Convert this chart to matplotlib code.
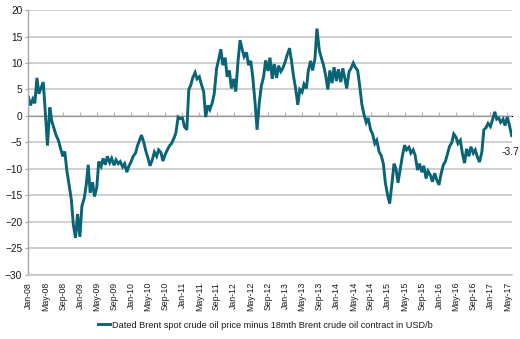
import numpy as np
import pandas as pd
import matplotlib
matplotlib.use("Agg")
import matplotlib.pyplot as plt
import matplotlib.dates as mdates
from matplotlib.ticker import NullFormatter

plt.rcParams['font.family'] = ['Liberation Sans', 'DejaVu Sans']

# half-monthly readings (1st and 15th of each month), USD/b
y2008 = [3.5, 2.0, 3.2, 2.4, 7.2, 4.2, 5.4, 6.4, 0.2, -5.6, 1.6, -1.0,
         -2.4, -3.6, -4.6, -6.0, -7.6, -6.7, -10.5, -12.8, -15.8, -20.5, -23.0, -18.5]
y2009 = [-22.8, -17.0, -15.5, -13.0, -9.2, -14.5, -12.5, -15.2, -13.5, -8.6, -9.5, -8.0,
         -9.2, -7.6, -8.8, -8.0, -9.3, -8.3, -9.0, -8.6, -9.6, -9.0, -10.6, -9.5]
y2010 = [-8.6, -7.6, -7.0, -5.6, -4.6, -3.6, -5.0, -6.6, -8.0, -9.4, -8.2, -6.8,
         -7.6, -6.4, -6.9, -8.5, -7.2, -6.4, -5.6, -5.2, -4.2, -3.2, -0.2, -0.5]
y2011 = [-0.4, -2.0, -2.6, 5.0, 5.8, 7.2, 8.2, 7.0, 7.4, 6.0, 4.6, -0.2,
         2.0, 1.2, 2.5, 4.2, 9.0, 10.6, 12.6, 9.6, 11.0, 7.4, 8.6, 5.2]
y2012 = [7.0, 4.6, 10.5, 14.3, 12.6, 11.2, 12.0, 9.6, 10.4, 7.4, 2.4, -2.6,
         2.6, 5.6, 7.5, 10.5, 8.5, 11.0, 7.0, 9.8, 7.2, 9.5, 8.4, 9.0]
y2013 = [10.2, 11.5, 12.8, 10.4, 7.6, 5.4, 2.1, 5.0, 4.5, 6.0, 5.2, 8.6,
         10.4, 8.6, 10.8, 16.5, 12.4, 11.0, 9.6, 7.8, 5.0, 8.6, 6.2, 9.2]
y2014 = [6.6, 8.8, 6.4, 9.0, 7.2, 5.2, 8.4, 9.0, 10.0, 9.2, 8.6, 5.8,
         2.2, 0.4, -1.2, -0.4, -2.6, -3.4, -5.2, -4.6, -6.8, -7.4, -9.0, -12.6]
y2015 = [-15.0, -16.5, -12.5, -9.0, -10.0, -12.6, -9.8, -7.6, -5.5, -6.4, -5.9, -7.0,
         -6.4, -7.4, -10.2, -9.0, -10.6, -9.4, -11.8, -10.4, -11.2, -12.4, -10.8, -12.0]
y2016 = [-13.0, -11.0, -9.2, -8.6, -7.2, -5.8, -5.0, -3.4, -4.0, -5.2, -4.6, -7.0,
         -8.9, -6.2, -7.6, -5.8, -7.0, -6.4, -7.8, -8.7, -6.8, -2.6, -2.2, -1.4]
y2017 = [-2.0, -0.8, 0.8, -0.6, -0.4, -1.2, -0.6, -1.8, -0.2, -1.6, -3.7]

values = y2008 + y2009 + y2010 + y2011 + y2012 + y2013 + y2014 + y2015 + y2016 + y2017
dates = pd.date_range('2008-01-01', periods=len(values), freq='SMS')
series_label = "Dated Brent spot crude oil price minus 18mth Brent crude oil contract in USD/b"

line_col = '#0a6475'
grid_col = '#c4c4c4'
text_col = '#1a1a1a'

fig = plt.figure(figsize=(5.2, 3.39), dpi=100)
ax = fig.add_axes([0.0548, 0.1888, 0.9302, 0.7817])

ax.plot(dates, values, color=line_col, lw=2.1, solid_joinstyle='miter', label=series_label)

ax.set_ylim(-30, 20)
ax.set_yticks(range(-30, 21, 5))
ax.set_xlim(dates[0], pd.Timestamp('2017-06-05'))

ax.xaxis.set_major_locator(mdates.MonthLocator(bymonth=[1, 5, 9]))
ax.xaxis.set_major_formatter(mdates.DateFormatter('%b-%y'))
ax.tick_params(axis='x', length=0, labelrotation=90, labelsize=6.3, colors=text_col, pad=5)
ax.tick_params(axis='y', length=2.5, width=0.8, color='#a0a0a0', labelsize=7.3,
               labelcolor=text_col, pad=2)

ax.grid(axis='y', color=grid_col, lw=1.1)
ax.set_axisbelow(True)
for s in ['top', 'right']:
    ax.spines[s].set_visible(False)
ax.spines['left'].set_color('#a8a8a8')
ax.spines['left'].set_linewidth(1.0)
ax.spines['bottom'].set_color(grid_col)
ax.spines['bottom'].set_linewidth(1.1)

# zero line carries the tick marks, labels stay at the bottom
zero_ax = ax.secondary_xaxis(0.6)
zero_ax.xaxis.set_major_locator(mdates.MonthLocator(bymonth=[1, 5, 9]))
zero_ax.xaxis.set_major_formatter(NullFormatter())
zero_ax.tick_params(axis='x', which='both', direction='out', length=3, width=0.8,
                    color='#b0b0b0', labelbottom=False, labeltop=False)
zero_ax.spines['bottom'].set_color(grid_col)
zero_ax.spines['bottom'].set_linewidth(1.1)

ax.annotate(f"{values[-1]:.1f}", xy=(dates[-1], values[-1]), xytext=(-1, -12),
            textcoords='offset points', ha='center', va='center', fontsize=7.5, color=text_col)

fig.legend(loc='center', bbox_to_anchor=(0.51, 0.041), frameon=False, fontsize=6.6,
           handlelength=1.3, handletextpad=0.2, labelcolor=text_col)

fig.savefig('out.png', dpi=100)
